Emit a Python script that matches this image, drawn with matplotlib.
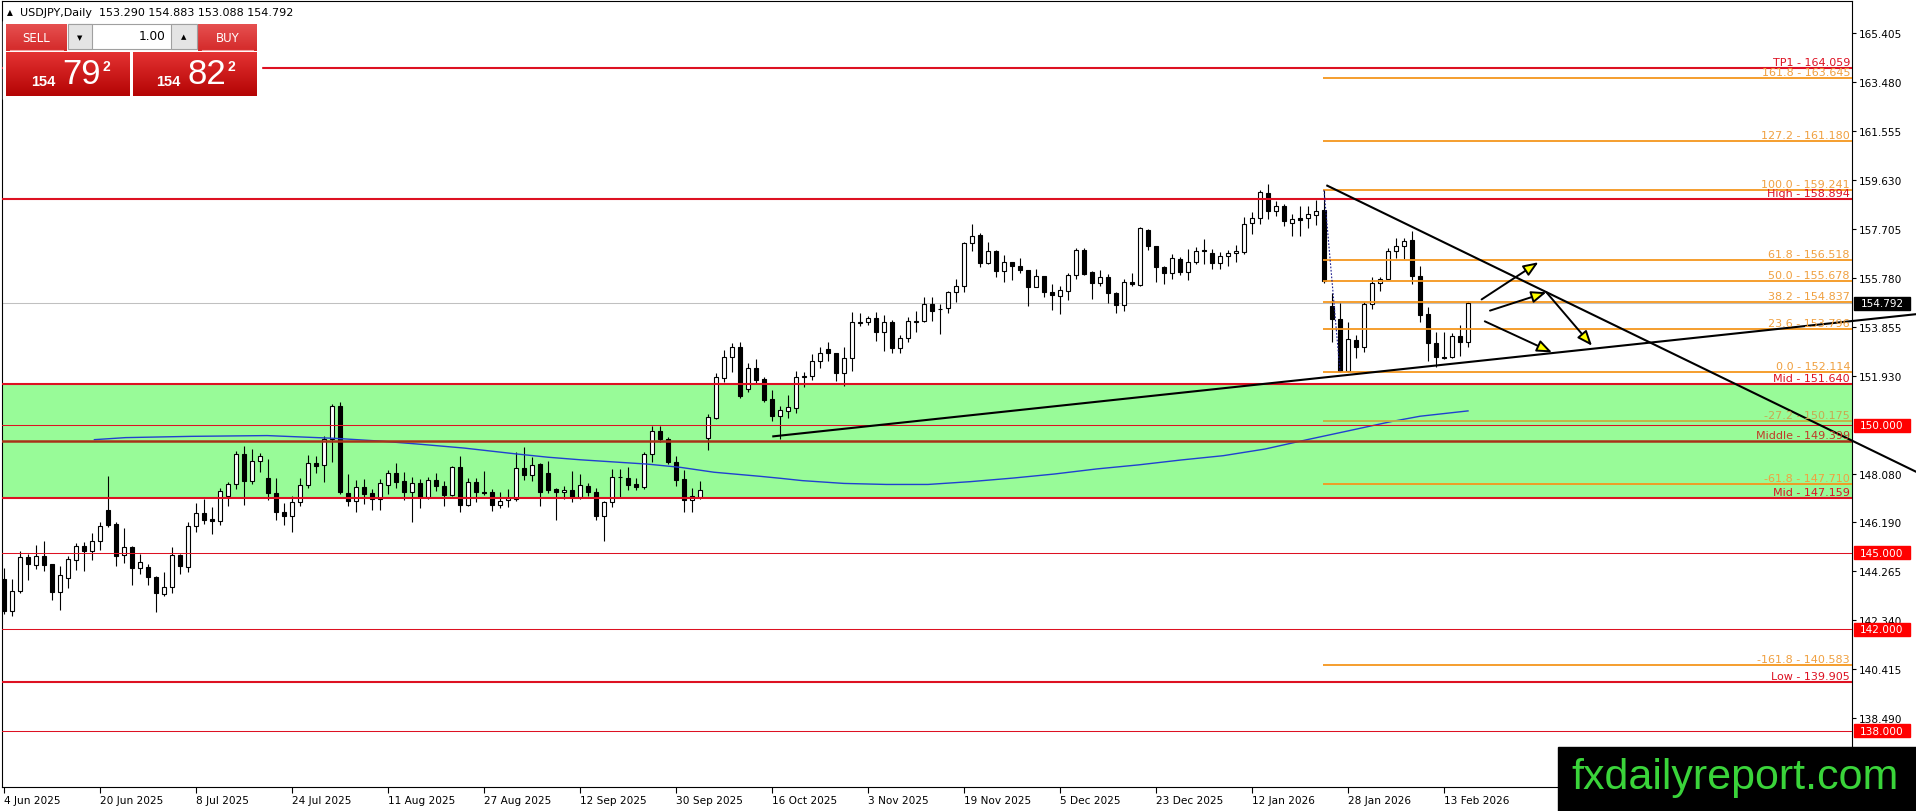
import numpy as np
import matplotlib
matplotlib.use("Agg")
import matplotlib.pyplot as plt
from matplotlib.patches import Rectangle, FancyArrowPatch

plt.rcParams['font.family'] = ['DejaVu Sans']

# daily candles, bar 0 = 4 Jun 2025, last bar = 18 Feb 2026
opens = [143.97, 142.72, 143.51, 144.82, 144.53, 144.86, 144.54, 143.44, 143.99, 144.72,
         145.26, 145.08, 145.44, 146.69, 146.13, 144.91, 145.24, 144.38, 144.42, 144.06,
         143.38, 143.64, 144.91, 144.42, 146.03, 146.56, 146.32, 146.23, 147.24, 147.70,
         148.88, 147.83, 148.59, 147.92, 147.34, 146.58, 146.45, 146.98, 147.66, 148.52,
         148.45, 149.47, 150.75, 147.34, 147.04, 147.57, 147.34, 147.11, 147.66, 148.13,
         147.80, 147.37, 147.72, 147.17, 147.86, 147.63, 147.27, 148.35, 146.89, 147.76,
         147.37, 147.37, 146.89, 147.06, 147.11, 148.31, 148.06, 148.48, 148.13, 147.50,
         147.37, 147.46, 147.17, 147.61, 147.37, 146.45, 146.98, 147.96, 147.92, 147.69,
         147.59, 148.88, 149.77, 149.47, 148.58, 147.90, 147.07, 147.20, 149.49, 150.28,
         151.85, 152.67, 153.07, 151.43, 152.24, 151.82, 151.04, 150.38, 150.55, 150.67,
         151.89, 151.95, 152.54, 153.00, 152.83, 152.06, 152.64, 154.01, 154.05, 154.21,
         153.66, 154.08, 153.03, 153.42, 154.05, 154.11, 154.77, 154.56, 154.60, 155.23,
         155.49, 157.17, 157.48, 156.38, 156.87, 156.05, 156.43, 156.28, 156.12, 155.43,
         155.86, 155.23, 155.07, 155.30, 155.91, 156.90, 156.01, 155.60, 155.82, 155.20,
         154.73, 155.65, 155.52, 157.68, 157.04, 156.21, 155.99, 156.54, 156.02, 156.41,
         156.89, 156.77, 156.38, 156.64, 156.76, 156.83, 157.94, 158.14, 159.12, 158.44,
         158.63, 157.95, 158.14, 158.14, 158.28, 158.45, 154.70, 154.18, 152.15, 153.37,
         153.07, 154.77, 155.58, 155.75, 156.85, 157.04, 157.29, 155.86, 154.38, 153.23,
         152.70, 152.68, 153.50, 153.29]
highs = [144.38, 143.97, 145.08, 144.95, 145.30, 145.46, 144.56, 144.46, 144.88, 145.38,
         145.43, 145.77, 146.22, 148.00, 146.19, 145.96, 145.27, 144.95, 144.55, 144.10,
         144.23, 145.21, 144.95, 146.19, 146.95, 147.11, 146.78, 147.53, 147.79, 149.01,
         149.20, 149.07, 148.92, 148.68, 147.92, 146.95, 147.21, 147.92, 148.84, 148.78,
         149.57, 150.84, 150.93, 148.09, 147.87, 147.89, 147.50, 147.89, 148.26, 148.52,
         148.16, 147.96, 147.90, 147.96, 148.13, 147.83, 148.39, 148.79, 147.92, 147.92,
         148.22, 147.50, 147.40, 147.50, 148.94, 149.14, 148.77, 148.52, 148.62, 147.53,
         147.63, 148.22, 148.09, 147.72, 147.54, 147.04, 148.29, 148.29, 148.35, 147.92,
         148.94, 149.96, 149.96, 149.53, 148.81, 148.25, 147.54, 147.80, 150.45, 152.06,
         152.98, 153.24, 153.29, 152.45, 152.61, 151.89, 151.39, 150.75, 151.19, 152.15,
         152.09, 152.80, 153.07, 153.26, 152.83, 153.07, 154.44, 154.42, 154.29, 154.44,
         154.34, 154.14, 153.55, 154.25, 154.51, 155.03, 155.03, 154.77, 155.29, 155.75,
         157.22, 157.91, 157.56, 157.19, 156.91, 156.70, 156.43, 156.57, 156.12, 156.15,
         155.88, 155.56, 155.46, 155.99, 156.99, 156.99, 156.08, 156.12, 155.95, 155.23,
         155.75, 155.99, 157.78, 157.72, 157.04, 156.28, 156.73, 156.60, 156.93, 157.00,
         157.32, 156.93, 156.83, 156.90, 157.09, 158.17, 158.40, 159.26, 159.49, 158.83,
         158.70, 158.31, 158.61, 158.61, 158.87, 159.24, 155.20, 154.81, 154.05, 153.55,
         154.84, 155.82, 155.82, 156.96, 157.36, 157.35, 157.65, 156.28, 154.64, 153.68,
         153.66, 153.63, 153.95, 154.883]
lows = [142.59, 142.52, 143.41, 143.94, 144.36, 144.29, 143.15, 142.76, 143.62, 144.33,
        144.29, 144.72, 145.10, 145.99, 144.49, 144.59, 143.74, 144.16, 143.74, 142.66,
        143.31, 143.41, 144.16, 144.23, 145.83, 146.13, 145.73, 146.10, 146.85, 147.50,
        146.87, 147.70, 148.18, 147.08, 146.30, 146.09, 145.83, 146.82, 147.53, 148.13,
        147.79, 148.58, 147.30, 146.85, 146.61, 146.91, 146.69, 146.69, 147.30, 147.53,
        147.08, 146.19, 146.74, 147.11, 147.44, 146.85, 147.21, 146.58, 146.82, 146.98,
        147.27, 146.65, 146.74, 146.78, 147.04, 147.87, 147.80, 146.82, 147.33, 146.30,
        147.11, 146.98, 147.11, 147.24, 146.28, 145.47, 146.78, 147.17, 147.46, 147.46,
        147.50, 148.55, 149.36, 148.48, 147.63, 146.58, 146.58, 147.11, 149.05, 150.25,
        151.72, 152.11, 151.06, 151.33, 151.63, 150.91, 150.19, 149.47, 150.28, 150.49,
        151.50, 151.80, 152.24, 152.54, 151.76, 151.54, 152.15, 153.92, 153.95, 153.30,
        152.94, 152.85, 152.85, 153.29, 153.66, 154.05, 154.11, 153.59, 154.42, 154.83,
        155.23, 156.87, 156.21, 156.34, 155.82, 155.65, 155.73, 155.99, 154.68, 155.43,
        155.03, 154.53, 154.38, 154.93, 155.75, 155.91, 154.97, 155.46, 154.81, 154.42,
        154.51, 155.46, 155.49, 156.90, 155.65, 155.56, 155.75, 155.91, 155.73, 156.34,
        156.34, 156.15, 156.15, 156.28, 156.43, 156.74, 157.52, 157.91, 158.11, 158.24,
        157.82, 157.43, 157.46, 157.74, 157.87, 155.60, 153.29, 152.11, 152.11, 152.64,
        152.87, 154.57, 155.29, 155.75, 156.56, 156.54, 155.56, 154.05, 152.54, 152.28,
        152.61, 152.64, 152.71, 153.088]
closes = [142.72, 143.51, 144.82, 144.55, 144.86, 144.52, 143.47, 144.12, 144.75, 145.25,
          145.08, 145.44, 146.06, 146.09, 144.88, 145.21, 144.38, 144.62, 144.03, 143.40,
          143.64, 144.91, 144.46, 146.03, 146.56, 146.30, 146.23, 147.44, 147.70, 148.88,
          147.83, 148.59, 148.81, 147.34, 146.58, 146.45, 146.98, 147.66, 148.52, 148.42,
          149.47, 150.75, 147.40, 147.04, 147.57, 147.31, 147.11, 147.73, 148.13, 147.79,
          147.37, 147.72, 147.17, 147.86, 147.63, 147.27, 148.35, 146.89, 147.76, 147.37,
          147.35, 146.89, 147.02, 147.13, 148.31, 148.05, 148.46, 147.37, 147.48, 147.37,
          147.46, 147.17, 147.66, 147.37, 146.45, 146.98, 147.96, 147.99, 147.67, 147.59,
          148.88, 149.77, 149.47, 148.58, 147.87, 147.07, 147.24, 147.46, 150.32, 151.89,
          152.67, 153.07, 151.17, 152.24, 151.80, 151.01, 150.38, 150.62, 150.71, 151.89,
          151.95, 152.54, 152.85, 152.83, 152.06, 152.64, 154.05, 154.05, 154.21, 153.66,
          154.08, 153.03, 153.42, 154.11, 154.11, 154.77, 154.51, 154.59, 155.23, 155.49,
          157.17, 157.43, 156.38, 156.87, 156.05, 156.43, 156.28, 156.12, 155.43, 155.86,
          155.23, 155.12, 155.33, 155.91, 156.90, 155.95, 155.60, 155.82, 155.20, 154.73,
          155.65, 155.56, 157.74, 157.04, 156.21, 155.98, 156.56, 156.02, 156.41, 156.87,
          156.84, 156.38, 156.64, 156.76, 156.87, 157.91, 158.14, 159.16, 158.44, 158.61,
          158.04, 158.11, 158.09, 158.31, 158.41, 155.69, 154.18, 152.15, 153.40, 153.07,
          154.77, 155.58, 155.75, 156.87, 157.04, 157.25, 155.86, 154.35, 153.23, 152.70,
          152.65, 153.53, 153.26, 154.792]

date_bars = [0, 12, 24, 36, 48, 60, 72, 84, 96, 108, 120, 132, 144, 156, 168, 180]
date_labels = ['4 Jun 2025', '20 Jun 2025', '8 Jul 2025', '24 Jul 2025', '11 Aug 2025',
               '27 Aug 2025', '12 Sep 2025', '30 Sep 2025', '16 Oct 2025', '3 Nov 2025',
               '19 Nov 2025', '5 Dec 2025', '23 Dec 2025', '12 Jan 2026', '28 Jan 2026',
               '13 Feb 2026']

# moving average (read at sampled bars)
ma_bars = [11.3, 15.2, 23.4, 32.9, 41.5, 47.2, 52, 57.5, 64, 68, 72, 80.4, 84.6, 88.75,
           94.5, 97.1, 99.8, 105, 110.3, 115.5, 120.8, 126.1, 131.3, 136.6, 141.85, 147.1,
           152.4, 157.6, 162.9, 168.1, 173.4, 177, 183]
ma_vals = [149.44, 149.52, 149.57, 149.60, 149.49, 149.38, 149.26, 149.11, 148.88, 148.75,
           148.65, 148.48, 148.35, 148.16, 148.00, 147.92, 147.83, 147.72, 147.68, 147.68,
           147.79, 147.93, 148.09, 148.29, 148.45, 148.64, 148.81, 149.07, 149.44, 149.79,
           150.15, 150.36, 150.57]

# levels
zone_top, zone_bottom = 151.640, 147.159
red_levels = [164.059, 158.894, 151.640, 147.159, 139.905]
red_names = ['TP1', 'High', 'Mid', 'Mid', 'Low']
middle_level = 149.399
hline_levels = [150.000, 145.000, 142.000, 138.000]
fib_ratios = ['161.8', '127.2', '100.0', '61.8', '50.0', '38.2', '23.6', '0.0',
              '-27.2', '-61.8', '-161.8']
fib_levels = [163.645, 161.180, 159.241, 156.518, 155.678, 154.837, 153.796, 152.114,
              150.175, 147.710, 140.583]
fib_start = 164.9
last_price = 154.792

ytick_vals = [165.405, 163.480, 161.555, 159.630, 157.705, 155.780, 153.855, 151.930,
              148.080, 146.190, 144.265, 142.340, 140.415, 138.490]

# trend lines (bar, price)
support_line = [(96.16, 149.57), (239, 154.37)]
resist_line = [(165.41, 159.42), (239, 148.18)]
fib_diag = [(165, 159.241), (167, 152.114)]
arrow_from = [(184.7, 154.95), (185.75, 154.51), (192.8, 155.23), (185.1, 154.09)]
arrow_to = [(191.8, 156.41), (192.8, 155.23), (198.5, 153.13), (193.5, 152.87)]

W, H = 1916, 812
fig = plt.figure(figsize=(W / 100, H / 100), dpi=100, facecolor='white')
ax = fig.add_axes([2 / W, 24 / H, 1850 / W, 786 / H])
ax.set_facecolor('white')

red = '#dd1122'
orange = '#f5961e'
orange_txt = '#f0a040'

ax.axhspan(zone_bottom, zone_top, color='#98fb98', zorder=0.3, lw=0)
ax.axhline(last_price, color='#c0c0c0', lw=0.75, zorder=0.8)

# candles
o = np.array(opens); c = np.array(closes)
x = np.arange(len(o))
up = c >= o
bottoms = np.minimum(o, c)
heights = np.maximum(np.abs(c - o), 0.015)
ax.vlines(x, lows, highs, color='black', lw=0.8, zorder=2)
ax.bar(x, heights, bottom=bottoms, width=0.62,
       color=['white' if u else 'black' for u in up],
       edgecolor='black', linewidth=0.8, zorder=2.5)

ax.plot(ma_bars, ma_vals, color='#2040d0', lw=1.0, zorder=3)

# horizontal lines
for lv in red_levels:
    ax.axhline(lv, color=red, lw=1.5, zorder=3.5)
ax.axhline(middle_level, color='#a83218', lw=1.8, zorder=3.5)
for lv in hline_levels:
    ax.axhline(lv, color=red, lw=0.75, zorder=3.5)
for r, lv in zip(fib_ratios, fib_levels):
    col = '#c8b040' if r == '-27.2' else orange
    ax.hlines(lv, fib_start, 231, color=col, lw=1.3, zorder=3.5)

ytr = ax.get_yaxis_transform()
for r, lv in zip(fib_ratios, fib_levels):
    col = '#c8a850' if r == '-27.2' else orange_txt
    ax.annotate(f'{r} - {lv:.3f}', xy=(1, lv), xycoords=ytr, xytext=(-2, 1),
                textcoords='offset pixels', ha='right', va='bottom', fontsize=8,
                color=col, zorder=6)
for nm, lv in zip(red_names, red_levels):
    ax.annotate(f'{nm} - {lv:.3f}', xy=(1, lv), xycoords=ytr, xytext=(-2, 1),
                textcoords='offset pixels', ha='right', va='bottom', fontsize=8,
                color=red, zorder=6)
ax.annotate(f'Middle - {middle_level:.3f}', xy=(1, middle_level), xycoords=ytr,
            xytext=(-2, 1), textcoords='offset pixels', ha='right', va='bottom',
            fontsize=8, color='#c03a28', zorder=6)

# trend lines
ax.plot(*zip(*support_line), color='black', lw=1.5, zorder=4, clip_on=False)
ax.plot(*zip(*resist_line), color='black', lw=1.5, zorder=4, clip_on=False)
ax.plot(*zip(*fib_diag), color='#1a1a8c', lw=0.8, ls=(0, (1.5, 1.5)), zorder=4)
for a, b in zip(arrow_from, arrow_to):
    ax.add_patch(FancyArrowPatch(a, b, arrowstyle='-|>,head_length=0.45,head_width=0.18',
                                 mutation_scale=20, facecolor='yellow', edgecolor='black',
                                 lw=1.4, shrinkA=0, shrinkB=0, zorder=5))

ax.set_xlim(-0.25, 231)
ax.set_ylim(135.792, 166.676)

# axes
ax.set_xticks(date_bars)
ax.set_xticklabels(date_labels, ha='left')
ax.set_yticks(ytick_vals)
ax.set_yticklabels([f'{v:.3f}' for v in ytick_vals])
ax.yaxis.tick_right()
ax.tick_params(axis='y', length=3, width=0.8, pad=2, labelsize=7.6, direction='out')
ax.tick_params(axis='x', length=4, width=0.8, pad=2, labelsize=7.6, direction='out')
for s in ax.spines.values():
    s.set_color('black'); s.set_linewidth(0.8)

# price boxes on the axis
box_w = 56 / 1850
box_h = 13 / 25.45
for lv in hline_levels:
    ax.add_patch(Rectangle((1 + 2 / 1850, lv - box_h / 2), box_w, box_h, transform=ytr,
                           color='#ff0000', clip_on=False, zorder=7))
    ax.text(1 + 30 / 1850, lv, f'{lv:.3f}', transform=ytr, ha='center', va='center',
            color='white', fontsize=7.6, zorder=8, clip_on=False)
ax.add_patch(Rectangle((1 + 2 / 1850, last_price - box_h / 2), box_w, box_h, transform=ytr,
                       color='black', clip_on=False, zorder=7))
ax.text(1 + 30 / 1850, last_price, f'{last_price:.3f}', transform=ytr, ha='center',
        va='center', color='white', fontsize=7.6, zorder=8, clip_on=False)

# overlay in pixel coordinates for header, trade panel and watermark
ui = fig.add_axes([0, 0, 1, 1], zorder=10)
ui.set_xlim(0, W); ui.set_ylim(H, 0); ui.axis('off'); ui.patch.set_alpha(0)


def grad(x0, y0, x1, y1, ctop, cbot):
    t = np.linspace(0, 1, 40)[:, None, None]
    a = np.array(matplotlib.colors.to_rgb(ctop)); b = np.array(matplotlib.colors.to_rgb(cbot))
    img = a * (1 - t) + b * t
    ui.imshow(img, extent=(x0, x1, y1, y0), aspect='auto', zorder=2, interpolation='bilinear')


ui.text(10, 13, '▲', fontsize=5.5, va='center', ha='center', color='black')
ui.text(20, 13, 'USDJPY,Daily  153.290 154.883 153.088 154.792', fontsize=8, va='center',
        color='black')

ui.add_patch(Rectangle((3, 22), 258, 78, color='white', zorder=1))
grad(6, 25, 67, 52, '#e65050', '#d42a2a')
grad(198, 25, 257, 52, '#e65050', '#d42a2a')
ui.plot([10, 63], [51, 51], color='#f4a0a0', lw=0.8, zorder=3)
ui.plot([202, 253], [51, 51], color='#f4a0a0', lw=0.8, zorder=3)
ui.text(36, 38, 'SELL', color='white', fontsize=8.5, ha='center', va='center', zorder=4)
ui.text(228, 38, 'BUY', color='white', fontsize=8.5, ha='center', va='center', zorder=4)
ui.add_patch(Rectangle((68, 25), 129, 25, facecolor='white', edgecolor='#a0a0a0', lw=0.8, zorder=3))
ui.add_patch(Rectangle((68, 25), 24, 25, facecolor='#e4e4e4', edgecolor='#a0a0a0', lw=0.8, zorder=3))
ui.add_patch(Rectangle((171, 25), 26, 25, facecolor='#e4e4e4', edgecolor='#a0a0a0', lw=0.8, zorder=3))
ui.text(80, 38, '▼', fontsize=5, ha='center', va='center', zorder=4)
ui.text(184, 37, '▲', fontsize=5, ha='center', va='center', zorder=4)
ui.text(165, 37, '1.00', fontsize=8.7, ha='right', va='center', zorder=4)
grad(6, 53, 130, 97, '#e43232', '#b40404')
grad(133, 53, 257, 97, '#e43232', '#b40404')
for x0, big in [(0, '79'), (125, '82')]:
    ui.text(43 + x0, 82, '154', color='white', fontsize=10.5, fontweight='bold',
            family='Liberation Sans', ha='center', va='center', zorder=4)
    ui.text(82 + x0, 75, big, color='white', fontsize=25, family='Liberation Sans',
            ha='center', va='center', zorder=4)
    ui.text(106 + x0, 67, '2', color='white', fontsize=10, fontweight='bold',
            family='Liberation Sans', ha='center', va='center', zorder=4)

ui.add_patch(Rectangle((1558, 748), 358, 64, color='black', zorder=2))
wm = ui.text(1735, 789, 'fxdailyreport.com', color='#3ad43a', fontsize=31,
             family='Liberation Sans', ha='center', va='baseline', zorder=3)
fig.canvas.draw()
wbb = wm.get_window_extent()
wm.set_fontsize(31 * 327 / wbb.width)

fig.savefig('out.png', dpi=100, facecolor='white')
